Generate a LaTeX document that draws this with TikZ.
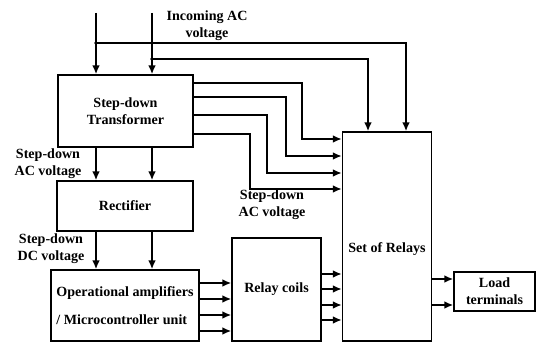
\documentclass[tikz,border=0pt]{standalone}
\usepackage{fontspec}
\setmainfont{Liberation Serif}
\usetikzlibrary{arrows.meta,calc}
\tikzset{
  blk/.style={draw, rectangle, line width=1.5pt, font=\bfseries\fontsize{12}{14.5}\selectfont, align=center, inner sep=2pt},
  lbl/.style={font=\bfseries\fontsize{12}{14.5}\selectfont, align=center, inner sep=0pt},
  con/.style={line width=1.3pt, -{Latex[length=2.6mm,width=2.3mm]}},
}
\begin{document}
\begin{tikzpicture}[x=0.03cm, y=-0.03cm]
\useasboundingbox (0,0) rectangle (536,343);
% blocks
\node[blk, minimum width=4.05cm, minimum height=2.16cm] (trf) at (125.5,111) {Step-down\\Transformer};
\node[blk, minimum width=4.08cm, minimum height=1.5cm] (rect) at (125,206) {Rectifier};
\node[blk, minimum width=4.44cm, minimum height=2.13cm, align=left] (opamp) at (125,305.5) {Operational amplifiers\\[9.5pt]/ Microcontroller unit};
\node[blk, minimum width=2.67cm, minimum height=3.09cm] (coil) at (276.5,289.5) {Relay coils};
\node[blk, minimum width=2.67cm, minimum height=6.27cm, label={[lbl, yshift=-0.37cm]center:Set of Relays}] (rly) at (387,236.5) {};
\node[blk, minimum width=2.43cm, minimum height=1.17cm] (load) at (494.5,291.5) {Load\\terminals};
% labels
\node[lbl] (inac) at (207,25.5) {Incoming AC\\voltage};
\node[lbl] (acl) at (48,164) {Step-down\\AC voltage};
\node[lbl] (acm) at (272,205) {Step-down\\AC voltage};
\node[lbl] (dcl) at (51,249) {Step-down\\DC voltage};
% incoming supply
\coordinate (in1) at (96,13);
\coordinate (in2) at (152,13);
\coordinate (j1) at (96,43);
\coordinate (j2) at (152,59);
\draw[con] (in1) -- (in1 |- trf.north);
\draw[con] (in2) -- (in2 |- trf.north);
\draw[con] (j1) -| ($(rly.north)+(19,0)$);
\draw[con] (j2) -| ($(rly.north)+(-19,0)$);
\fill (j1) circle (1.5pt);
\fill (j2) circle (1.5pt);
% transformer to relays
\foreach \ya/\xb/\yb in {83/302/139, 97/286/156, 115/267/173, 134/250/189}
  \draw[con] (trf.east |- 0,\ya) -| (\xb,\yb) -- (rly.west |- 0,\yb);
% down the chain
\foreach \x in {96,152} {
  \draw[con] (trf.south -| \x,0) -- (rect.north -| \x,0);
  \draw[con] (rect.south -| \x,0) -- (opamp.north -| \x,0);
}
\foreach \y in {283,299,315,331}
  \draw[con] (opamp.east |- 0,\y) -- (coil.west |- 0,\y);
\foreach \y in {274,289,305,320}
  \draw[con] (coil.east |- 0,\y) -- (rly.west |- 0,\y);
\foreach \y in {279,305}
  \draw[con] (rly.east |- 0,\y) -- (load.west |- 0,\y);
\end{tikzpicture}
\end{document}
